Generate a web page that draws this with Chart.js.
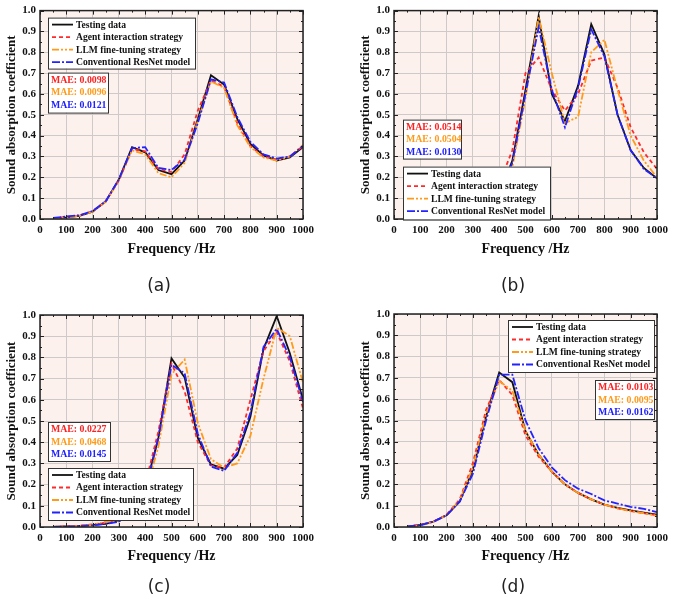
<!DOCTYPE html>
<html>
<head>
<meta charset="utf-8">
<script src="https://cdn.jsdelivr.net/npm/chart.js@4/dist/chart.umd.min.js"></script>
<style>
  body { margin: 0; background: #fff; width: 673px; height: 603px; position: relative; overflow: hidden; }
  canvas { position: absolute; }
  .tag { position: absolute; font-family: "DejaVu Sans", sans-serif; font-size: 17px; color: #222; transform: translate(-50%, -50%); }
</style>
</head>
<body>
<canvas id="chartA" width="336" height="300" style="left:0;top:0"></canvas>
<canvas id="chartB" width="337" height="300" style="left:336px;top:0"></canvas>
<canvas id="chartC" width="336" height="303" style="left:0;top:300px"></canvas>
<canvas id="chartD" width="337" height="303" style="left:336px;top:300px"></canvas>
<div class="tag" style="left:159px;top:285px">(a)</div>
<div class="tag" style="left:513px;top:285px">(b)</div>
<div class="tag" style="left:159px;top:586px">(c)</div>
<div class="tag" style="left:513px;top:586px">(d)</div>
<script>
// frequencies (Hz)
const freq = [50, 100, 150, 200, 250, 300, 350, 400, 450, 500, 550, 600, 650, 700, 750, 800, 850, 900, 950, 1000];

const seriesNames = ["Testing data", "Agent interaction strategy", "LLM fine-tuning strategy", "Conventional ResNet model"];

// panel (a)
const testA  = [0.003, 0.008, 0.015, 0.035, 0.085, 0.19, 0.345, 0.32, 0.235, 0.215, 0.28, 0.48, 0.69, 0.645, 0.48, 0.36, 0.305, 0.28, 0.295, 0.345];
const agentA = [0.003, 0.010, 0.017, 0.037, 0.085, 0.185, 0.335, 0.325, 0.24, 0.225, 0.31, 0.52, 0.665, 0.635, 0.46, 0.35, 0.30, 0.285, 0.30, 0.35];
const llmA   = [0.002, 0.008, 0.015, 0.035, 0.083, 0.185, 0.33, 0.31, 0.22, 0.20, 0.27, 0.47, 0.66, 0.63, 0.45, 0.345, 0.295, 0.28, 0.30, 0.355];
const resA   = [0.005, 0.012, 0.018, 0.038, 0.085, 0.19, 0.34, 0.345, 0.245, 0.235, 0.285, 0.46, 0.67, 0.655, 0.49, 0.37, 0.31, 0.29, 0.30, 0.35];
const maeA   = ["MAE: 0.0098", "MAE: 0.0096", "MAE: 0.0121"];

// panel (b)
const testB  = [0.002, 0.003, 0.004, 0.006, 0.010, 0.020, 0.05, 0.12, 0.28, 0.62, 0.975, 0.60, 0.47, 0.64, 0.935, 0.79, 0.50, 0.33, 0.245, 0.195];
const agentB = [0.002, 0.004, 0.006, 0.010, 0.015, 0.030, 0.08, 0.17, 0.33, 0.70, 0.775, 0.62, 0.52, 0.60, 0.76, 0.775, 0.63, 0.44, 0.32, 0.24];
const llmB   = [0.001, 0.002, 0.004, 0.007, 0.012, 0.025, 0.05, 0.10, 0.25, 0.58, 0.97, 0.70, 0.46, 0.49, 0.80, 0.86, 0.62, 0.40, 0.28, 0.20];
const resB   = [0.002, 0.003, 0.005, 0.007, 0.010, 0.020, 0.05, 0.12, 0.27, 0.60, 0.92, 0.62, 0.44, 0.63, 0.91, 0.78, 0.50, 0.33, 0.24, 0.195];
const maeB   = ["MAE: 0.0514", "MAE: 0.0504", "MAE: 0.0130"];

// panel (c)
const testC  = [0.001, 0.003, 0.005, 0.010, 0.015, 0.030, 0.08, 0.18, 0.42, 0.795, 0.705, 0.42, 0.295, 0.275, 0.34, 0.52, 0.84, 0.995, 0.82, 0.60];
const agentC = [0.001, 0.003, 0.006, 0.012, 0.020, 0.035, 0.09, 0.20, 0.45, 0.77, 0.64, 0.40, 0.29, 0.28, 0.37, 0.60, 0.83, 0.92, 0.78, 0.56];
const llmC   = [0.001, 0.002, 0.005, 0.010, 0.025, 0.030, 0.06, 0.15, 0.38, 0.72, 0.79, 0.49, 0.32, 0.28, 0.30, 0.43, 0.70, 0.94, 0.90, 0.68];
const resC   = [0.001, 0.002, 0.004, 0.008, 0.015, 0.025, 0.07, 0.17, 0.42, 0.765, 0.725, 0.44, 0.285, 0.265, 0.35, 0.54, 0.85, 0.935, 0.80, 0.59];
const maeC   = ["MAE: 0.0227", "MAE: 0.0468", "MAE: 0.0145"];

// panel (d)
const testD  = [0.002, 0.010, 0.025, 0.055, 0.12, 0.27, 0.52, 0.725, 0.68, 0.45, 0.34, 0.26, 0.20, 0.16, 0.13, 0.105, 0.09, 0.078, 0.068, 0.058];
const agentD = [0.002, 0.010, 0.025, 0.058, 0.13, 0.30, 0.55, 0.69, 0.62, 0.43, 0.33, 0.26, 0.20, 0.16, 0.13, 0.105, 0.088, 0.075, 0.065, 0.055];
const llmD   = [0.001, 0.008, 0.024, 0.055, 0.125, 0.28, 0.53, 0.685, 0.64, 0.45, 0.34, 0.26, 0.20, 0.16, 0.13, 0.105, 0.088, 0.075, 0.065, 0.052];
const resD   = [0.003, 0.008, 0.025, 0.055, 0.12, 0.25, 0.50, 0.715, 0.715, 0.50, 0.37, 0.28, 0.22, 0.18, 0.155, 0.125, 0.11, 0.095, 0.085, 0.07];
const maeD   = ["MAE: 0.0103", "MAE: 0.0095", "MAE: 0.0162"];

const lineColors = ["#111111", "#ff2a2a", "#ff9a1a", "#2323ff"];
const lineDashes = [[], [4, 3], [7, 2, 2, 2, 2, 2], [8, 2, 2, 2]];
const maeColors = ["#ff2020", "#ff9a1a", "#2020ff"];
const serif = "'Liberation Serif', 'Times New Roman', serif";

function toPoints(vals) {
  return freq.map((f, i) => ({x: f, y: vals[i]}));
}

// backdrop, frame, inward ticks, legend and MAE box
const decor = {
  id: "decor",
  beforeDraw(chart) {
    const a = chart.chartArea, ctx = chart.ctx;
    ctx.save();
    ctx.fillStyle = "#fdf1ee";
    ctx.fillRect(a.left, a.top, a.right - a.left, a.bottom - a.top);
    ctx.restore();
  },
  afterDraw(chart, args, o) {
    const a = chart.chartArea, ctx = chart.ctx;
    const xs = chart.scales.x, ys = chart.scales.y;
    ctx.save();
    ctx.strokeStyle = "#222";
    ctx.lineWidth = 1;
    ctx.beginPath();
    for (let f = 0; f <= 1000; f += 50) {
      const px = Math.round(xs.getPixelForValue(f)) + 0.5;
      const len = f % 100 === 0 ? 4 : 2;
      ctx.moveTo(px, a.bottom); ctx.lineTo(px, a.bottom - len);
      ctx.moveTo(px, a.top); ctx.lineTo(px, a.top + len);
    }
    for (let v = 0; v <= 20; v++) {
      const py = Math.round(ys.getPixelForValue(v / 20)) + 0.5;
      const len = v % 2 === 0 ? 4 : 2;
      ctx.moveTo(a.left, py); ctx.lineTo(a.left + len, py);
      ctx.moveTo(a.right, py); ctx.lineTo(a.right - len, py);
    }
    ctx.stroke();
    ctx.lineWidth = 1.5;
    ctx.strokeRect(a.left, a.top, a.right - a.left, a.bottom - a.top);

    // legend
    const lg = o.legend;
    let lx = a.left + lg[0], ly = a.top + lg[1];
    ctx.fillStyle = "#fff";
    ctx.fillRect(lx, ly, lg[2], lg[3]);
    ctx.lineWidth = 1;
    ctx.strokeStyle = "#333";
    ctx.strokeRect(lx + 0.5, ly + 0.5, lg[2], lg[3]);
    ctx.font = "bold 9.6px " + serif;
    ctx.textBaseline = "middle";
    seriesNames.forEach((name, i) => {
      const cy = ly + 7 + i * 12.5;
      ctx.strokeStyle = lineColors[i];
      ctx.lineWidth = 1.8;
      ctx.setLineDash(lineDashes[i]);
      ctx.beginPath();
      ctx.moveTo(lx + 4, cy); ctx.lineTo(lx + 25, cy);
      ctx.stroke();
      ctx.setLineDash([]);
      ctx.fillStyle = "#111";
      ctx.fillText(name, lx + 28, cy + 0.5);
    });

    // MAE box
    const mb = o.mae;
    const mx = a.left + mb[0], my = a.top + mb[1];
    ctx.fillStyle = "#fff";
    ctx.fillRect(mx, my, mb[2], mb[3]);
    ctx.strokeStyle = "#333";
    ctx.lineWidth = 1;
    ctx.strokeRect(mx + 0.5, my + 0.5, mb[2], mb[3]);
    ctx.font = "bold 9.8px " + serif;
    o.maeText.forEach((t, i) => {
      ctx.fillStyle = maeColors[i];
      ctx.fillText(t, mx + 3, my + 7.5 + i * 12.5);
    });
    ctx.restore();
  }
};

function makeChart(id, data, cfg) {
  const sets = data.map((vals, i) => ({
    label: seriesNames[i],
    data: toPoints(vals),
    borderColor: lineColors[i],
    borderDash: lineDashes[i],
    borderWidth: 1.8,
    pointRadius: 0,
    tension: 0,
    fill: false
  }));
  // testing data drawn last so it sits on top
  return new Chart(document.getElementById(id), {
    type: "line",
    data: {datasets: sets.slice().reverse()},
    options: {
      responsive: false,
      animation: false,
      layout: {padding: cfg.pad},
      plugins: {
        legend: {display: false},
        tooltip: {enabled: false},
        decor: {legend: cfg.legend, mae: cfg.mae, maeText: cfg.maeText}
      },
      scales: {
        x: {
          type: "linear", min: 0, max: 1000,
          grid: {color: "#cfcaca", lineWidth: 1, drawTicks: false},
          border: {display: false},
          ticks: {stepSize: 100, autoSkip: false, padding: 5, maxRotation: 0, color: "#111",
            font: {family: serif, size: 11, weight: "bold"}, callback: v => String(v)},
          title: {display: true, text: "Frequency /Hz", color: "#111", padding: 0, font: {family: serif, size: 14, weight: "bold"}},
          afterFit(s) { s.height = cfg.xh; }
        },
        y: {
          min: 0, max: 1,
          grid: {color: "#cfcaca", lineWidth: 1, drawTicks: false},
          border: {display: false},
          ticks: {stepSize: 0.1, autoSkip: false, padding: 4, color: "#111", font: {family: serif, size: 11, weight: "bold"},
            callback: v => v.toFixed(1)},
          title: {display: true, text: "Sound absorption coefficient", color: "#111", padding: 0, font: {family: serif, size: 13, weight: "bold"}},
          afterFit(s) { s.width = cfg.yw; }
        }
      }
    },
    plugins: [decor]
  });
}

makeChart("chartA", [testA, agentA, llmA, resA], {
  pad: {left: 4, top: 6, right: 33, bottom: 42}, yw: 36, xh: 39,
  legend: [8, 7, 147, 51], mae: [8, 62, 60, 40], maeText: maeA
});
makeChart("chartB", [testB, agentB, llmB, resB], {
  pad: {left: 22, top: 6, right: 15, bottom: 42}, yw: 36, xh: 39,
  legend: [9, 156, 147, 53], mae: [9, 109, 58, 39], maeText: maeB
});
makeChart("chartC", [testC, agentC, llmC, resC], {
  pad: {left: 4, top: 15, right: 33, bottom: 38}, yw: 36, xh: 38,
  legend: [8, 153, 145, 52], mae: [8, 107, 62, 39], maeText: maeC
});
makeChart("chartD", [testD, agentD, llmD, resD], {
  pad: {left: 22, top: 14, right: 15, bottom: 38}, yw: 36, xh: 38,
  legend: [114, 6, 146, 52], mae: [201, 66, 59, 39], maeText: maeD
});
</script>
</body>
</html>
